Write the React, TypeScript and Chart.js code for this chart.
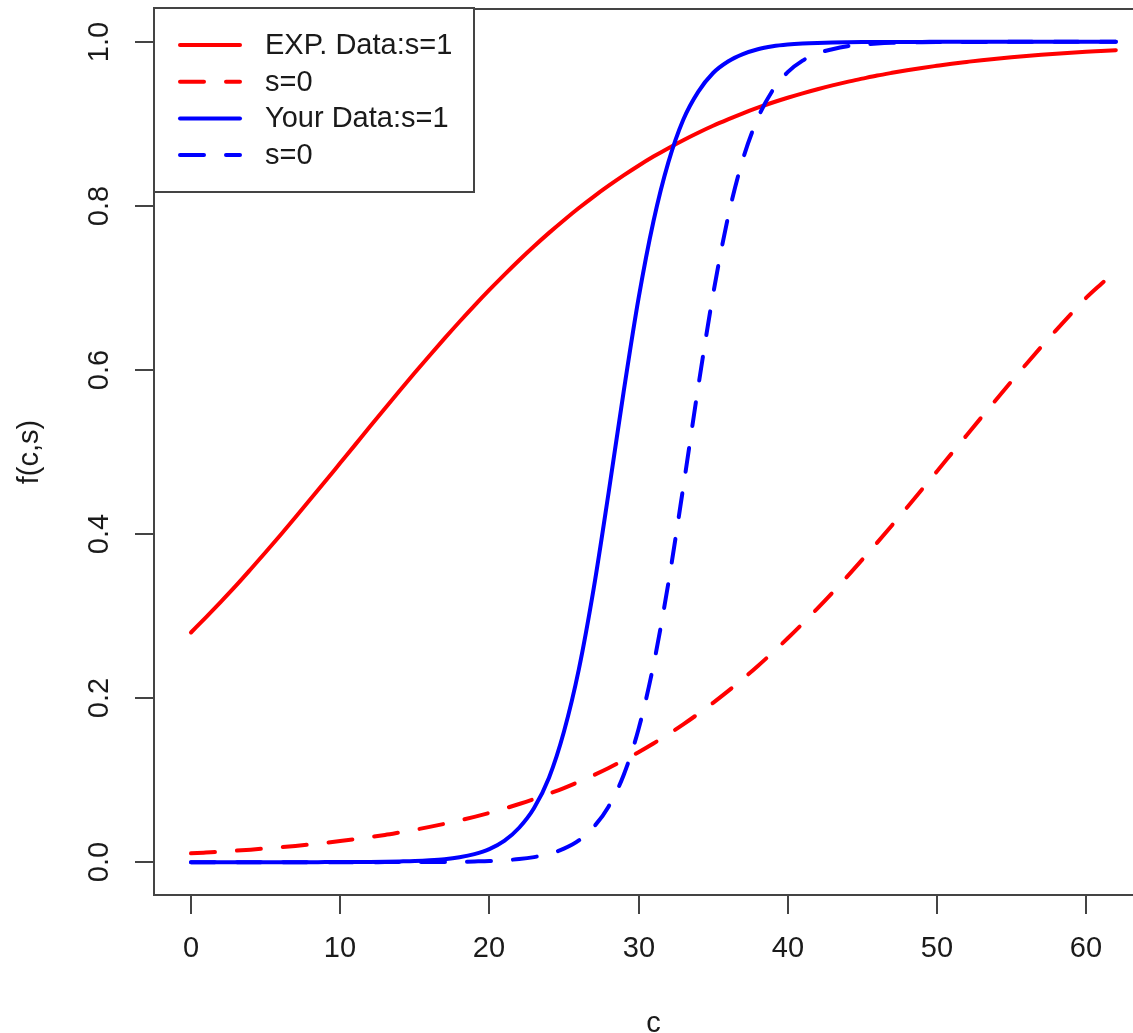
import React, { useEffect, useRef } from "react";
import { Chart, registerables } from "chart.js";

Chart.register(...registerables);

// ---- data ----
const cValues = [
  0, 1, 2, 3, 4, 5, 6, 7, 8, 9, 10, 11, 12, 13, 14, 15, 16, 17, 18, 19, 20,
  21, 22, 23, 24, 25, 26, 27, 28, 29, 30, 31, 32, 33, 34, 35, 36, 37, 38, 39,
  40, 41, 42, 43, 44, 45, 46, 47, 48, 49, 50, 51, 52, 53, 54, 55, 56, 57, 58,
  59, 60, 61, 62,
];

const expS1 = [
  0.28, 0.2985, 0.3174, 0.3368, 0.3571, 0.3778, 0.3989, 0.4204, 0.4423,
  0.4643, 0.4865, 0.5087, 0.531, 0.553, 0.5749, 0.5965, 0.6177, 0.6385,
  0.6588, 0.6785, 0.6976, 0.716, 0.7338, 0.7508, 0.7671, 0.7826, 0.7974,
  0.8114, 0.8246, 0.8372, 0.849, 0.8601, 0.8704, 0.8801, 0.8892, 0.8977,
  0.9055, 0.9129, 0.9197, 0.926, 0.9318, 0.9372, 0.9422, 0.9469, 0.9512,
  0.9551, 0.9589, 0.9622, 0.9653, 0.9682, 0.9708, 0.9733, 0.9755, 0.9776,
  0.9794, 0.9811, 0.9827, 0.9842, 0.9855, 0.9867, 0.9878, 0.9888, 0.9898,
];

const expS0 = [
  0.0108, 0.0118, 0.0128, 0.014, 0.0153, 0.0167, 0.0182, 0.0198, 0.0216,
  0.0236, 0.0257, 0.028, 0.0305, 0.0332, 0.0363, 0.0395, 0.043, 0.0468,
  0.0509, 0.0553, 0.0601, 0.0653, 0.0709, 0.0769, 0.0835, 0.0904, 0.098,
  0.1061, 0.1148, 0.1242, 0.1341, 0.1447, 0.156, 0.168, 0.1808, 0.1943,
  0.2085, 0.2235, 0.2392, 0.2557, 0.2729, 0.2908, 0.3094, 0.3286, 0.3484,
  0.3688, 0.3896, 0.4108, 0.4324, 0.4543, 0.4763, 0.4984, 0.5205, 0.5425,
  0.5644, 0.586, 0.6073, 0.6282, 0.6486, 0.6685, 0.6878, 0.7045, 0.7205,
];

const yourS1 = [
  0, 0, 0, 0, 0, 0, 0, 0, 0, 0.0001, 0.0001, 0.0002, 0.0003, 0.0005, 0.0009,
  0.0014, 0.0023, 0.0037, 0.0061, 0.0099, 0.016, 0.026, 0.042, 0.066, 0.103,
  0.159, 0.235, 0.334, 0.451, 0.573, 0.687, 0.781, 0.853, 0.905, 0.939, 0.962,
  0.976, 0.985, 0.991, 0.9945, 0.9966, 0.9979, 0.9987, 0.9992, 0.9995, 0.9997,
  0.9998, 0.9999, 0.9999, 0.9999, 1, 1, 1, 1, 1, 1, 1, 1, 1, 1, 1, 1, 1,
];

const yourS0 = [
  0, 0, 0, 0, 0, 0, 0, 0, 0, 0, 0, 0, 0, 0.0001, 0.0001, 0.0001, 0.0002,
  0.0003, 0.0005, 0.0009, 0.0014, 0.0024, 0.0038, 0.0062, 0.01, 0.0165,
  0.0266, 0.043, 0.068, 0.106, 0.162, 0.24, 0.34, 0.457, 0.579, 0.692, 0.786,
  0.857, 0.907, 0.941, 0.963, 0.977, 0.986, 0.991, 0.9946, 0.9967, 0.998,
  0.9988, 0.9992, 0.9995, 0.9997, 0.9998, 0.9999, 0.9999, 0.9999, 1, 1, 1, 1,
  1, 1, 1, 1,
];

const seriesLabels = ["EXP. Data:s=1", "s=0", "Your Data:s=1", "s=0"];
const seriesColors = ["#ff0000", "#ff0000", "#0000ff", "#0000ff"];
const seriesDashed = [false, true, false, true];

const xTicks = [0, 10, 20, 30, 40, 50, 60];
const xTickLabels = ["0", "10", "20", "30", "40", "50", "60"];
const yTicks = [0, 0.2, 0.4, 0.6, 0.8, 1.0];
const yTickLabels = ["0.0", "0.2", "0.4", "0.6", "0.8", "1.0"];
const xTitle = "c";
const yTitle = "f(c,s)";

const FONT = '29px "Liberation Sans", Arial, Helvetica, sans-serif';
const TEXT = "#1a1a1a";
const AXIS = "#444444";

const rAxesPlugin = {
  id: "rAxes",
  afterDraw(chart: any) {
    const ctx = chart.ctx as CanvasRenderingContext2D;
    const { left, top, right, bottom } = chart.chartArea;
    const xs = chart.scales.x;
    const ys = chart.scales.y;
    ctx.save();

    // box (right side falls outside the picture)
    ctx.strokeStyle = AXIS;
    ctx.lineWidth = 2;
    ctx.beginPath();
    ctx.moveTo(right + 5, top);
    ctx.lineTo(left, top);
    ctx.lineTo(left, bottom);
    ctx.lineTo(right + 5, bottom);
    ctx.stroke();

    // x ticks
    ctx.font = FONT;
    ctx.fillStyle = TEXT;
    ctx.textAlign = "center";
    ctx.textBaseline = "middle";
    xTicks.forEach((v, i) => {
      const px = Math.round(xs.getPixelForValue(v));
      ctx.beginPath();
      ctx.moveTo(px, bottom);
      ctx.lineTo(px, bottom + 19);
      ctx.stroke();
      ctx.fillText(xTickLabels[i], px, bottom + 54);
    });

    // y ticks (labels parallel to axis)
    yTicks.forEach((v, i) => {
      const py = Math.round(ys.getPixelForValue(v));
      ctx.beginPath();
      ctx.moveTo(left, py);
      ctx.lineTo(left - 19, py);
      ctx.stroke();
      ctx.save();
      ctx.translate(left - 54, py);
      ctx.rotate(-Math.PI / 2);
      ctx.fillText(yTickLabels[i], 0, 0);
      ctx.restore();
    });

    // axis titles (centred on the full plot region, which extends past the picture)
    const xMid = (xs.getPixelForValue(-2.48) + xs.getPixelForValue(64.48)) / 2;
    ctx.fillText(xTitle, xMid, bottom + 129);
    ctx.save();
    ctx.translate(30, (top + bottom) / 2);
    ctx.rotate(-Math.PI / 2);
    ctx.fillText(yTitle, 0, 0);
    ctx.restore();

    // legend
    const lx = left;
    const ly = top - 1;
    const lw = 320;
    const lh = 184;
    ctx.fillStyle = "#ffffff";
    ctx.fillRect(lx, ly, lw, lh);
    ctx.strokeStyle = AXIS;
    ctx.lineWidth = 2;
    ctx.strokeRect(lx, ly, lw, lh);
    chart.data.datasets.forEach((ds: any, i: number) => {
      const ry = ly + 37 + i * 36.7;
      ctx.save();
      ctx.strokeStyle = ds.borderColor;
      ctx.lineWidth = 4;
      ctx.lineCap = "round";
      ctx.setLineDash(ds.borderDash || []);
      ctx.beginPath();
      ctx.moveTo(lx + 26, ry);
      ctx.lineTo(lx + 86, ry);
      ctx.stroke();
      ctx.restore();
      ctx.fillStyle = TEXT;
      ctx.textAlign = "left";
      ctx.textBaseline = "middle";
      ctx.fillText(ds.label, lx + 111, ry + 1);
    });

    ctx.restore();
  },
};

export default function App() {
  const ref = useRef<HTMLCanvasElement | null>(null);

  useEffect(() => {
    document.body.style.margin = "0";
    const canvas = ref.current;
    if (!canvas) return;
    const series = [expS1, expS0, yourS1, yourS0];
    const chart = new Chart(canvas, {
      type: "line",
      data: {
        datasets: series.map((vals, i) => ({
          label: seriesLabels[i],
          data: cValues.map((c, j) => ({ x: c, y: vals[j] })),
          borderColor: seriesColors[i],
          backgroundColor: seriesColors[i],
          borderWidth: 4,
          borderDash: seriesDashed[i] ? [24, 22] : [],
          borderCapStyle: "round",
          borderJoinStyle: "round",
          pointRadius: 0,
          cubicInterpolationMode: "monotone",
          fill: false,
          order: 4 - i,
        })),
      },
      options: {
        responsive: false,
        animation: false,
        devicePixelRatio: 1,
        layout: { padding: { left: 154, top: 9, right: 0, bottom: 138 } },
        plugins: {
          legend: { display: false },
          tooltip: { enabled: false },
        },
        scales: {
          x: { type: "linear", min: -2.48, max: 63.15, display: false },
          y: { type: "linear", min: -0.04, max: 1.04, display: false },
        },
      },
      plugins: [rAxesPlugin],
    });
    return () => chart.destroy();
  }, []);

  return (
    <div style={{ position: "absolute", left: 0, top: 0, width: 1133, height: 1033, background: "#fff" }}>
      <canvas ref={ref} width={1133} height={1033} style={{ display: "block" }} />
    </div>
  );
}
